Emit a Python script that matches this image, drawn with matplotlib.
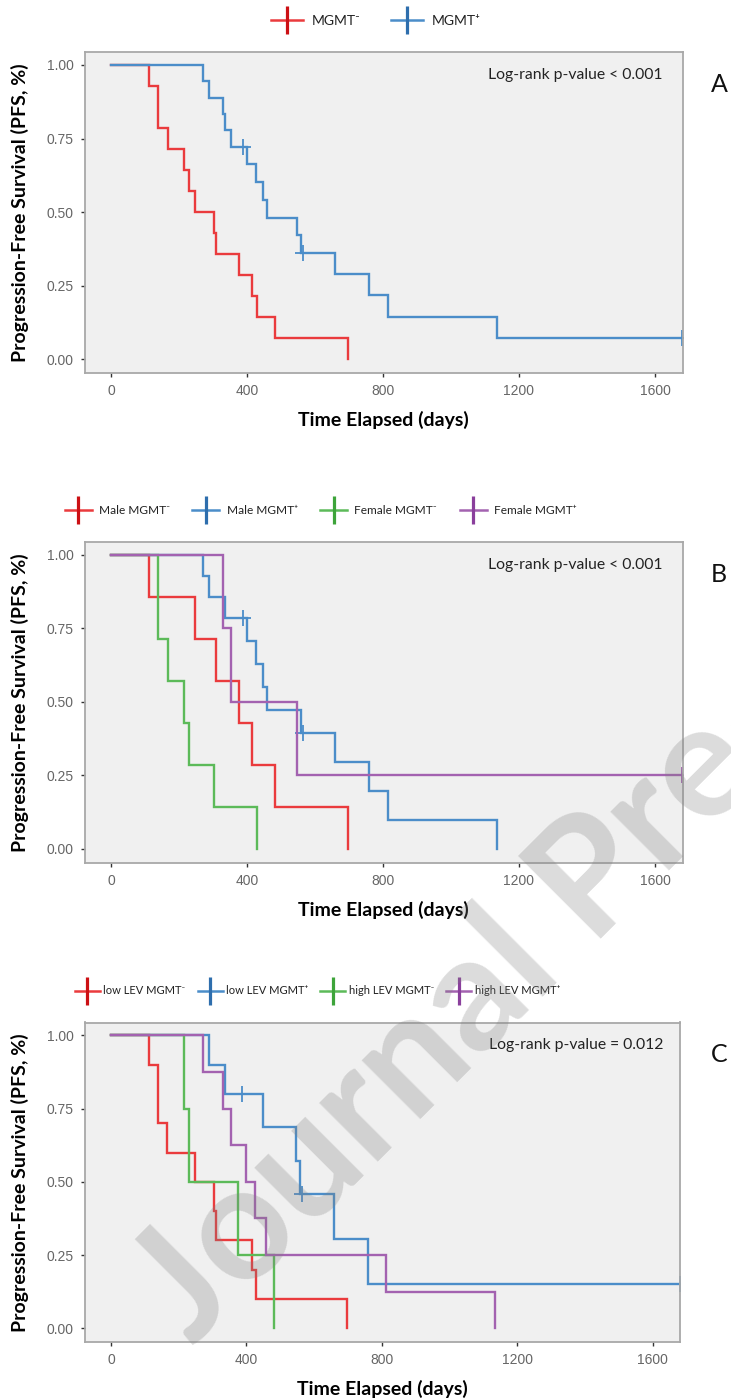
import numpy as np
import matplotlib
matplotlib.use('Agg')
import matplotlib.pyplot as plt
from matplotlib.lines import Line2D
from matplotlib.font_manager import FontProperties

W, H = 731, 1400

# ---------------- data (days to progression; censored times) ----------------
A_labels = ['MGMT⁻', 'MGMT⁺']
A_neg_events = [112, 139, 139, 167, 216, 230, 247, 304, 310, 376, 416, 428, 482, 698]
A_neg_cens = []
A_pos_events = [271, 289, 330, 336, 354, 399, 425, 448, 458, 548, 559, 660, 760, 814, 1135]
A_pos_cens = [387, 565, 1680]
A_pval = 'Log-rank p-value < 0.001'

B_labels = ['Male MGMT⁻', 'Male MGMT⁺', 'Female MGMT⁻', 'Female MGMT⁺']
B_male_neg_events = [112, 247, 310, 376, 416, 482, 698]
B_male_neg_cens = []
B_male_pos_events = [271, 289, 336, 399, 425, 448, 458, 559, 660, 760, 814, 1135]
B_male_pos_cens = [387, 565]
B_fem_neg_events = [139, 139, 167, 216, 230, 304, 428]
B_fem_neg_cens = []
B_fem_pos_events = [330, 354, 548]
B_fem_pos_cens = [1680]
B_pval = 'Log-rank p-value < 0.001'

C_labels = ['low LEV MGMT⁻', 'low LEV MGMT⁺', 'high LEV MGMT⁻', 'high LEV MGMT⁺']
C_low_neg_events = [112, 139, 139, 167, 247, 304, 310, 416, 428, 698]
C_low_neg_cens = []
C_low_pos_events = [289, 336, 448, 548, 559, 660, 760]
C_low_pos_cens = [387, 565, 1680]
C_high_neg_events = [216, 230, 376, 482]
C_high_neg_cens = []
C_high_pos_events = [271, 330, 354, 399, 425, 458, 814, 1135]
C_high_pos_cens = []
C_pval = 'Log-rank p-value = 0.012'

x_ticks = [0, 400, 800, 1200, 1600]
y_ticks = [0.0, 0.25, 0.5, 0.75, 1.0]
panel_letters = ['A', 'B', 'C']
watermark = 'Journal Pre-proof'

# ---------------- style ----------------
COL = {'red': '#EA3B3D', 'blue': '#4B8DC9', 'green': '#5CBA59', 'purple': '#A362B0'}
DCOL = {'red': '#CC1014', 'blue': '#2E6EAD', 'green': '#3DA43A', 'purple': '#8A3F9C'}
LAB_FONT = ['Lato', 'DejaVu Sans']
TICK_FONT = 'Liberation Sans'


def km(events, cens):
    times = sorted(set(events) | set(cens))
    at_risk = len(events) + len(cens)
    s = 1.0
    xs, ys, cx, cy = [0], [1.0], [], []
    for t in times:
        d = events.count(t)
        c = cens.count(t)
        if d:
            s *= (at_risk - d) / at_risk
        xs.append(t)
        ys.append(s)
        if c:
            cx.append(t)
            cy.append(s)
        at_risk -= d + c
    return xs, ys, cx, cy


def px_axes(fig, l, r, t, b):
    return fig.add_axes([l / W, 1 - b / H, (r - l) / W, (b - t) / H])


fig = plt.figure(figsize=(W / 100, H / 100), dpi=100)
fig.patch.set_facecolor('white')

panels = [
    dict(box=(84.5, 682.5, 52, 373),
         groups=[(A_neg_events, A_neg_cens, 'red'), (A_pos_events, A_pos_cens, 'blue')],
         labels=A_labels, pval=A_pval, leg=dict(xy=(376, 21), size=10, hl=2.3, tp=0.65, cs=2.16),
         letter_y=84),
    dict(box=(84.5, 682.5, 542, 862.5),
         groups=[(B_male_neg_events, B_male_neg_cens, 'red'), (B_male_pos_events, B_male_pos_cens, 'blue'),
                 (B_fem_neg_events, B_fem_neg_cens, 'green'), (B_fem_pos_events, B_fem_pos_cens, 'purple')],
         labels=B_labels, pval=B_pval, leg=dict(xy=(320.5, 511), size=8.6, hl=2.25, tp=0.6, cs=1.9),
         letter_y=575),
    dict(box=(84.5, 680, 1022.5, 1342),
         groups=[(C_low_neg_events, C_low_neg_cens, 'red'), (C_low_pos_events, C_low_pos_cens, 'blue'),
                 (C_high_neg_events, C_high_neg_cens, 'green'), (C_high_pos_events, C_high_pos_cens, 'purple')],
         labels=C_labels, pval=C_pval, leg=dict(xy=(317.5, 991), size=8.0, hl=2.25, tp=0.3, cs=1.1),
         letter_y=1054),
]

for i, p in enumerate(panels):
    l, r, t, b = p['box']
    ax = px_axes(fig, l, r, t, b)
    ax.set_facecolor('#F0F0F0')
    for sp in ax.spines.values():
        sp.set_color('#A8A8A8')
        sp.set_linewidth(1.3)
    handles = []
    for ev, ce, cname in p['groups']:
        xs, ys, cx, cy = km(ev, ce)
        ax.step(xs, ys, where='post', color=COL[cname], lw=1.7, solid_joinstyle='miter')
        if cx:
            ax.plot(cx, cy, ls='none', marker='+', markersize=11, markeredgewidth=1.3, color=COL[cname])
        handles.append(Line2D([], [], color=COL[cname], lw=1.8, marker='|', markersize=20,
                              markeredgewidth=2.3, markeredgecolor=DCOL[cname]))
    ax.set_xlim(-78, 1681)
    ax.set_ylim(-0.047, 1.044)
    ax.set_xticks(x_ticks)
    ax.set_yticks(y_ticks)
    ax.set_yticklabels([f'{v:.2f}' for v in y_ticks])
    ax.tick_params(direction='out', length=3, width=1.0, color='#333333', labelcolor='#666666',
                   labelsize=10, pad=5)
    for lab in ax.get_xticklabels() + ax.get_yticklabels():
        lab.set_family(TICK_FONT)
    ax.set_xlabel('Time Elapsed (days)', family=LAB_FONT, fontweight='bold', fontsize=14, color='black')
    ax.xaxis.set_label_coords(0.5, -47 / (b - t))
    ax.xaxis.label.set_va('center')
    ax.set_ylabel('Progression-Free Survival (PFS, %)', family=LAB_FONT, fontweight='bold', fontsize=14,
                  color='black')
    ax.yaxis.set_label_coords((20 - l) / (r - l), 0.5)
    ax.yaxis.label.set_va('center')
    ax.text((663 - l) / (r - l), 1 - 23 / (b - t), p['pval'], transform=ax.transAxes, ha='right', va='center',
            family=LAB_FONT, fontsize=11.3, color='#222222')
    fig.text(719 / W, 1 - p['letter_y'] / H, panel_letters[i], ha='center', va='center',
             family=LAB_FONT, fontsize=18, color='#111111')
    lg = p['leg']
    lx, ly = lg['xy']
    fig.legend(handles, p['labels'], loc='center', bbox_to_anchor=(lx / W, 1 - ly / H), ncol=len(handles),
               frameon=False, handlelength=lg['hl'], handletextpad=lg['tp'], columnspacing=lg['cs'],
               prop=FontProperties(family=LAB_FONT, size=lg['size']), borderaxespad=0, borderpad=0,
               labelcolor='#222222')

# watermark (runs off the page, as in the original)
fig.text(193 / W, 1 - 1347 / H, watermark, rotation=45, rotation_mode='anchor', ha='left', va='baseline',
         fontsize=116, family='Lato', fontweight='bold', color='#808080', alpha=0.28, zorder=20)

fig.savefig('out.png', dpi=100, facecolor='white')
